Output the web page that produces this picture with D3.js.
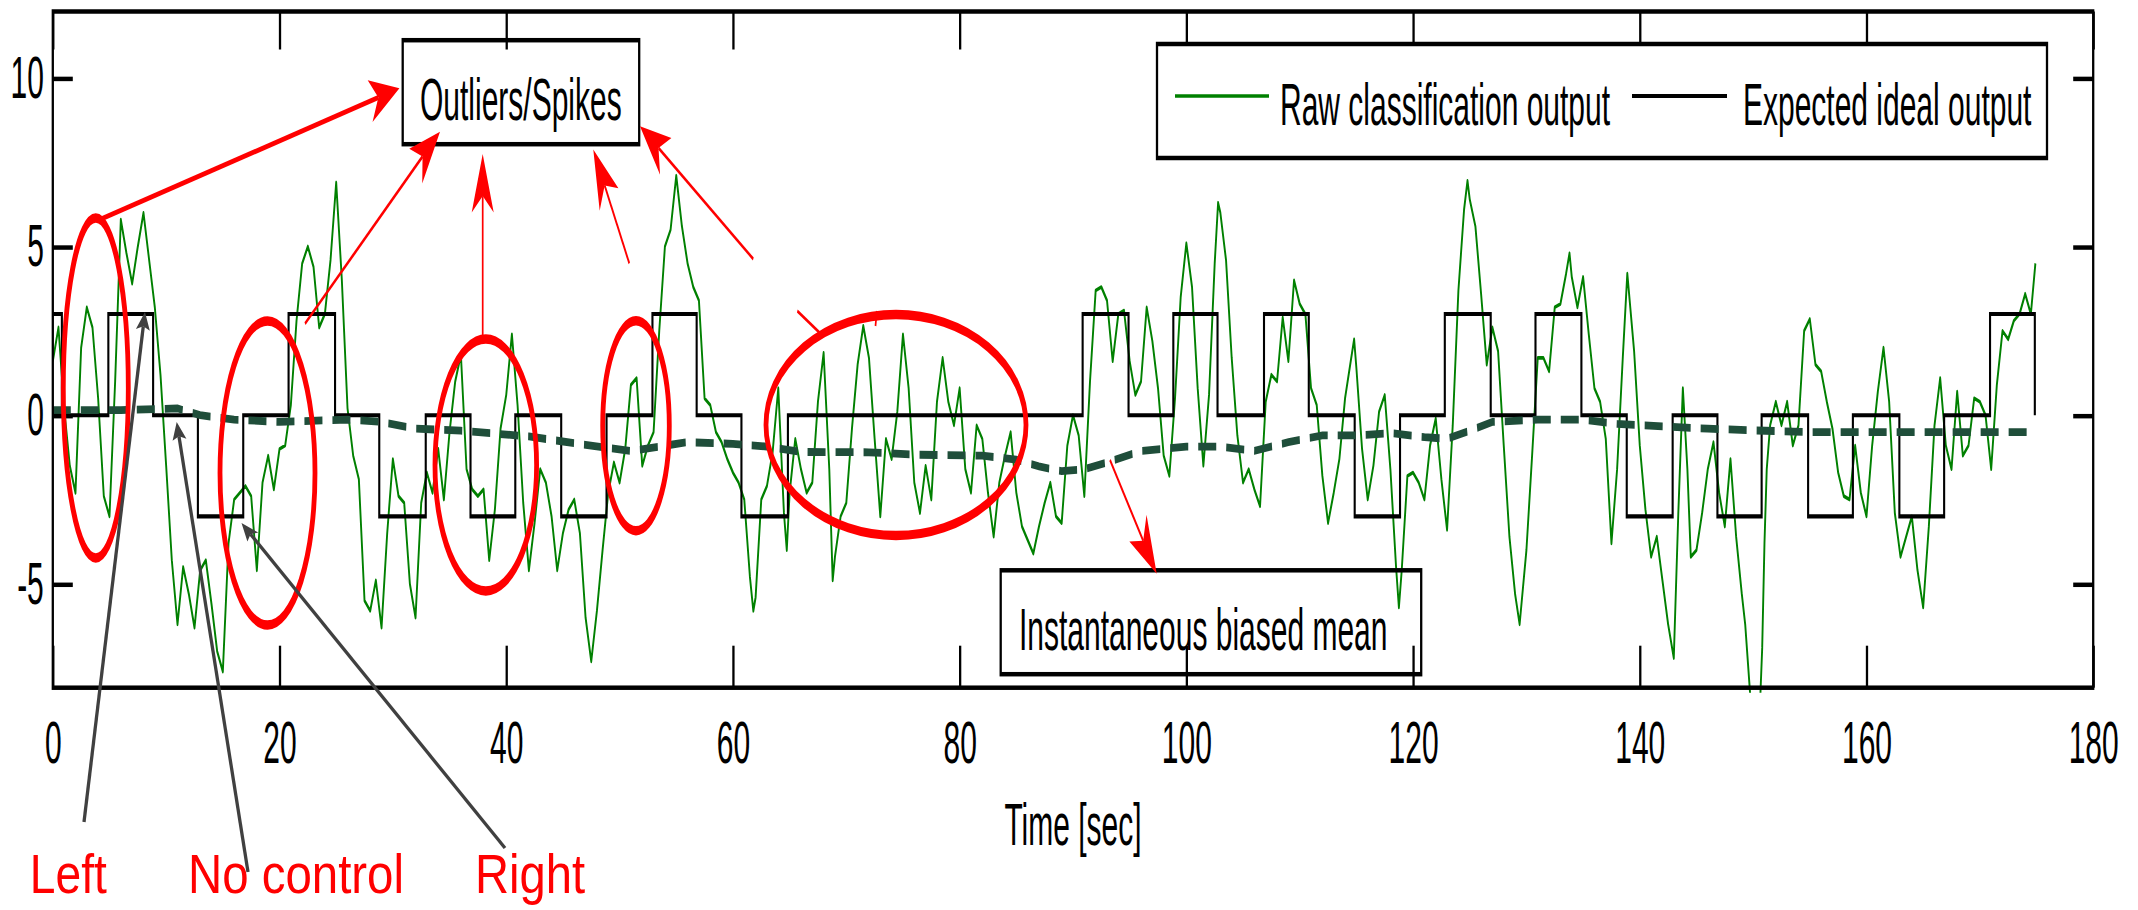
<!DOCTYPE html>
<html>
<head>
<meta charset="utf-8">
<script src="https://cdn.jsdelivr.net/npm/d3@7"></script>
<style>
  html, body { margin: 0; padding: 0; background: #ffffff; }
  svg { display: block; }
</style>
</head>
<body>
<svg id="chart" width="2138" height="910"></svg>
<script>
// ---------------- DATA ----------------
const xTicks = [0, 20, 40, 60, 80, 100, 120, 140, 160, 180];
const yTicks = [-5, 0, 5, 10];
const xLabel = "Time [sec]";
const legendLabels = ["Raw classification output", "Expected ideal output"];
const boxLabels = ["Outliers/Spikes", "Instantaneous biased mean"];
const classLabels = ["Left", "No control", "Right"];

// Expected ideal output (step function, value holds until next time)
const stepTime = [0, 0.8, 4.9, 8.85, 12.8, 16.8, 20.8, 24.9, 28.8, 32.9, 36.85, 40.8, 44.85, 48.85,
  52.9, 56.8, 60.75, 64.85, 90.85, 94.9, 98.85, 102.75, 106.85, 110.8, 114.85, 118.85, 122.8,
  126.85, 130.8, 134.85, 138.85, 142.9, 146.85, 150.75, 154.85, 158.8, 162.9, 166.85, 170.9, 174.85];
const stepValue = [3, 0, 3, 0, -3, 0, 3, 0, -3, 0, -3, 0, -3, 0,
  3, 0, -3, 0, 3, 0, 3, 0, 3, 0, -3, 0, 3,
  0, 3, 0, -3, 0, -3, 0, -3, 0, -3, 0, 3, 0];

// Instantaneous biased mean (dashed)
const meanTime = [0, 6, 11, 13, 16, 20, 26, 29, 32, 36, 42, 47, 51, 56, 60, 63, 66, 72, 76, 82, 85, 87,
  89, 91, 93, 96, 100, 103, 106, 109, 112, 115, 118, 121, 123, 125, 127, 131, 135, 138, 142, 146, 150, 155, 174.9];
const meanValue = [0.15, 0.15, 0.2, 0.0, -0.13, -0.2, -0.13, -0.2, -0.4, -0.46, -0.63, -0.88, -1.06, -0.8, -0.85,
  -0.93, -1.09, -1.1, -1.17, -1.2, -1.32, -1.52, -1.66, -1.6, -1.4, -1.06, -0.93, -0.93, -1.06, -0.8, -0.6,
  -0.6, -0.53, -0.65, -0.7, -0.46, -0.2, -0.13, -0.13, -0.26, -0.33, -0.4, -0.45, -0.5, -0.5];

// Raw classification output
const rawTime = [
  0, 0.5, 1, 1.5, 2, 2.5, 3, 3.5, 4, 4.5, 5, 5.5, 6, 6.5, 7, 7.5, 8, 8.5, 9, 9.5,
  10, 10.5, 11, 11.5, 12, 12.5, 13, 13.5, 14, 14.5, 15, 15.5, 16, 16.5, 17, 17.5, 18, 18.5, 19, 19.5,
  20, 20.5, 21, 21.5, 22, 22.5, 23, 23.5, 24, 24.5, 25, 25.5, 26, 26.5, 27, 27.5, 28, 28.5, 29, 29.5,
  30, 30.5, 31, 31.5, 32, 32.5, 33, 33.5, 34, 34.5, 35, 35.5, 36, 36.5, 37, 37.5, 38, 38.5, 39, 39.5,
  40, 40.5, 41, 41.5, 42, 42.5, 43, 43.5, 44, 44.5, 45, 45.5, 46, 46.5, 47, 47.5, 48, 48.5, 49, 49.5,
  50, 50.5, 51, 51.5, 52, 52.5, 53, 53.5, 54, 54.5, 55, 55.5, 56, 56.5, 57, 57.5, 58, 58.5, 59, 59.5,
  60, 60.5, 61, 61.5, 61.8, 62, 62.5, 63, 63.5, 64, 64.5, 64.75,
  65, 65.5, 66, 66.5, 67, 67.5, 68, 68.5, 68.8, 69, 69.5,
  70, 70.5, 71, 71.5, 72, 72.5, 73, 73.5, 74, 74.5,
  75, 75.5, 76, 76.5, 77, 77.5, 78, 78.5, 79, 79.5,
  80, 80.5, 81, 81.5, 82, 82.5, 83, 83.5, 84, 84.5,
  85, 85.5, 86, 86.5, 87, 87.5, 88, 88.5, 89, 89.5,
  90, 90.5, 91, 91.5, 92, 92.5, 93, 93.5, 94, 94.5,
  95, 95.5, 96, 96.5, 97, 97.5, 98, 98.5, 99, 99.5,
  100, 100.5, 101, 101.5, 102, 102.5, 102.8, 103, 103.5, 104, 104.5,
  105, 105.5, 106, 106.5, 107, 107.5, 108, 108.5, 109, 109.5,
  110, 110.5, 111, 111.5, 112, 112.5, 113, 113.5, 114, 114.5, 114.8,
  115, 115.5, 116, 116.5, 117, 117.5, 118, 118.5, 118.75, 119, 119.5,
  120, 120.5, 121, 121.5, 122, 122.5, 123, 123.5, 124, 124.5, 124.8,
  125, 125.5, 126, 126.5, 127, 127.5, 128, 128.5, 129, 129.4,
  130, 130.5, 131, 131.5, 132, 132.5, 133, 133.5, 133.8, 134, 134.5,
  135, 135.5, 136, 136.5, 137, 137.5, 138, 138.5, 138.9, 139.5,
  140, 140.5, 141, 141.5, 142, 142.5, 143, 143.4, 143.8, 144.2, 144.5,
  145, 145.5, 146, 146.5, 147, 147.5, 148, 148.5, 149, 149.3, 149.7,
  150, 150.5, 150.8, 151, 151.2, 151.5, 152, 152.5, 153, 153.5, 154, 154.5,
  155, 155.5, 156, 156.5, 157, 157.5, 158, 158.5, 159, 159.5,
  160, 160.5, 161, 161.5, 162, 162.5, 163, 163.5, 164, 164.5,
  165, 165.5, 166, 166.5, 167, 167.5, 168, 168.5, 169, 169.5,
  170, 170.5, 171, 171.5, 172, 172.5, 173, 173.5, 174, 174.5, 174.9
];
const rawValue = [
  1.6, 2.6, 0.2, -1.5, -2.3, 2.0, 3.2, 2.6, 0.5, -2.4, -3.0, 1.0, 5.8, 4.8, 3.9, 5.0, 6.0, 4.6, 3.2, 1.2,
  -1.5, -4.3, -6.2, -4.5, -5.3, -6.3, -4.6, -4.3, -5.6, -7.0, -7.6, -3.8, -2.5, -2.3, -2.1, -2.4, -4.6, -2.0, -1.2, -2.2,
  -1.0, -0.9, 0.3, 2.8, 4.5, 5.0, 4.4, 2.6, 3.0, 4.6, 6.9, 4.0, 0.2, -1.2, -1.9, -5.5, -5.8, -4.9, -6.3, -3.5,
  -1.3, -2.4, -2.6, -5.0, -6.0, -2.6, -1.7, -2.3, -1.0, -2.5, -0.5, 1.0, 1.8, -1.6, -2.2, -2.4, -2.2, -4.3, -2.8, -0.4,
  0.6, 2.4, 0.3, -2.6, -4.6, -3.2, -1.6, -2.0, -3.0, -4.6, -3.5, -2.8, -2.5, -3.5, -6.0, -7.3, -5.8, -4.0, -2.3, -1.4,
  -2.0, -1.0, 0.9, 1.1, -1.5, -0.9, -0.5, 2.5, 5.0, 5.5, 7.1, 5.6, 4.5, 3.8, 3.4, 0.5, 0.3, -0.5, -0.8, -1.3,
  -1.7, -2.0, -2.5, -4.8, -5.8, -5.4, -2.5, -2.1, -1.1, 0.8, -2.9, -4.0,
  -2.3, -0.7, -1.6, -2.3, -2.0, 0.4, 1.85, -1.6, -4.9, -4.2, -3.0,
  -2.6, -0.4, 1.5, 2.65, 1.7, -0.7, -3.0, -0.7, -1.3, 0.1,
  2.4, 0.8, -2.0, -2.9, -1.5, -2.5, 0.4, 1.7, 0.4, -0.3,
  0.8, -1.6, -2.3, -0.3, -0.7, -2.3, -3.6, -2.0, -1.2, -0.5,
  -2.3, -3.3, -3.7, -4.1, -3.3, -2.6, -2.0, -3.0, -3.2, -0.9,
  0.0, -0.6, -2.4, 1.0, 3.7, 3.8, 3.4, 1.6, 3.0, 3.1,
  1.6, 0.6, 1.0, 3.2, 2.2, 0.8, -1.2, -1.8, 0.5, 3.5,
  5.1, 3.8, 0.8, -1.5, 0.6, 4.5, 6.3, 6.0, 4.6, 1.7, -0.6,
  -2.0, -1.6, -2.2, -2.7, 0.4, 1.2, 1.0, 2.9, 1.6, 4.0,
  3.3, 3.0, 0.8, 0.3, -1.8, -3.2, -2.3, -1.3, 0.5, 1.6, 2.25,
  1.4, -1.0, -2.5, -1.5, 0.1, 0.6, -1.6, -4.5, -5.7, -4.6, -1.8,
  -1.7, -2.0, -2.5, -0.9, -0.1, -1.9, -3.4, -0.3, 3.7, 6.1, 6.95,
  6.4, 5.6, 3.6, 1.5, 2.6, 1.9, -0.9, -3.6, -5.3, -6.2,
  -4.0, -1.2, 1.7, 1.7, 1.3, 3.2, 3.3, 4.2, 4.8, 4.1, 3.2,
  4.1, 2.4, 0.8, 0.4, -0.7, -3.8, -1.6, 1.7, 4.2, 1.9,
  -0.9, -2.8, -4.2, -3.6, -4.9, -6.2, -7.2, -2.9, 0.8, -1.6, -4.2,
  -4.0, -2.9, -1.6, -0.8, -2.3, -3.3, -1.3, -3.6, -5.3, -6.2, -8.1,
  -9.5, -9.5, -6.9, -3.8, -1.6, -0.3, 0.4, -0.3, 0.4, -0.9, -0.3, 2.5,
  2.85, 1.5, 1.3, 0.4, -0.4, -1.7, -2.4, -2.5, -0.9, -2.3,
  -3.0, -0.9, 0.7, 2.0, 0.4, -2.9, -4.2, -3.6, -3.0, -4.6,
  -5.7, -3.3, -0.3, 1.1, -0.9, -1.6, 0.7, -1.2, -0.9, 0.5,
  0.4, 0.0, -1.6, 0.9, 2.5, 2.25, 2.8, 3.0, 3.6, 3.0, 4.5
];

// ---------------- DRAWING ----------------
const K = 1.95;                 // vertical stretch of the original figure
const Y = p => p / K;           // full-pixel y -> stretched-group units
const FONT = "'Liberation Sans', Arial, Helvetica, sans-serif";
const FS = 30;

const svg = d3.select("#chart");
svg.append("rect").attr("width", 2138).attr("height", 910).attr("fill", "#fff");
const g = svg.append("g").attr("transform", `scale(1,${K})`);

const P = { l: 52.8, r: 2093.2, t: 11.5, b: 687.7 };
const x = d3.scaleLinear().domain([0, 180]).range([P.l, P.r]);
const y = d3.scaleLinear().domain([-8.08, 11.97]).range([Y(P.b), Y(P.t)]);

g.append("defs").append("clipPath").attr("id", "clip").append("rect")
  .attr("x", P.l).attr("y", Y(P.t)).attr("width", P.r - P.l).attr("height", Y(P.b + 5) - Y(P.t));

// series
const lineLin = d3.line().x(d => x(d[0])).y(d => y(d[1]));
const lineStep = d3.line().x(d => x(d[0])).y(d => y(d[1])).curve(d3.curveStepAfter);

g.append("path").datum(rawTime.map((t, i) => [t, rawValue[i]]))
  .attr("d", lineLin).attr("fill", "none").attr("stroke", "#008000")
  .attr("stroke-width", 1.9).attr("stroke-linejoin", "round").attr("clip-path", "url(#clip)");

g.append("path").datum(stepTime.map((t, i) => [t, stepValue[i]]))
  .attr("d", lineStep).attr("fill", "none").attr("stroke", "#000").attr("stroke-width", 2.1);

g.append("path").datum(meanTime.map((t, i) => [t, meanValue[i]]))
  .attr("d", lineLin).attr("fill", "none").attr("stroke", "#1f4e3a")
  .attr("stroke-width", 4).attr("stroke-dasharray", "18,10");

// axes
const xb = g.append("g").attr("transform", `translate(0,${Y(P.b)})`)
  .call(d3.axisBottom(x).tickValues(xTicks).tickSizeInner(-42 / K).tickSizeOuter(0)
    .tickPadding(17.3).tickFormat(d => String(d)));
const xt = g.append("g").attr("transform", `translate(0,${Y(P.t)})`)
  .call(d3.axisTop(x).tickValues(xTicks).tickSizeInner(-38 / K).tickSizeOuter(0).tickFormat(""));
const yl = g.append("g").attr("transform", `translate(${P.l},0)`)
  .call(d3.axisLeft(y).tickValues(yTicks).tickSizeInner(-20).tickSizeOuter(0)
    .tickPadding(9).tickFormat(d => String(d)));
const yr = g.append("g").attr("transform", `translate(${P.r},0)`)
  .call(d3.axisRight(y).tickValues(yTicks).tickSizeInner(-20).tickSizeOuter(0).tickFormat(""));
[xb, xt, yl, yr].forEach(a => {
  a.select(".domain").remove();
  a.selectAll("line").attr("stroke", "#000").attr("stroke-width", 2.3);
  a.selectAll("text").attr("font-size", FS).attr("font-family", FONT).attr("fill", "#000");
});
g.append("rect").attr("x", P.l).attr("y", Y(P.t)).attr("width", P.r - P.l)
  .attr("height", Y(P.b) - Y(P.t)).attr("fill", "none").attr("stroke", "#000").attr("stroke-width", 2.3);

g.append("text").attr("x", (P.l + P.r) / 2).attr("y", Y(845)).attr("text-anchor", "middle")
  .attr("font-size", FS).attr("font-family", FONT).attr("fill", "#000").text(xLabel);

// legend
g.append("rect").attr("x", 1157).attr("y", Y(44)).attr("width", 890).attr("height", Y(158) - Y(44))
  .attr("fill", "#fff").attr("stroke", "#000").attr("stroke-width", 2.3);
g.append("line").attr("x1", 1175).attr("x2", 1269).attr("y1", Y(96)).attr("y2", Y(96))
  .attr("stroke", "#008000").attr("stroke-width", 1.8);
g.append("text").attr("x", 1280).attr("y", Y(125)).attr("font-size", FS).attr("font-family", FONT)
  .attr("fill", "#000").text(legendLabels[0]);
g.append("line").attr("x1", 1632).attr("x2", 1727).attr("y1", Y(96)).attr("y2", Y(96))
  .attr("stroke", "#000").attr("stroke-width", 2.1);
g.append("text").attr("x", 1743).attr("y", Y(125)).attr("font-size", FS).attr("font-family", FONT)
  .attr("fill", "#000").text(legendLabels[1]);

// annotation boxes
g.append("rect").attr("x", 402.7).attr("y", Y(40.2)).attr("width", 236.5).attr("height", Y(144.2) - Y(40.2))
  .attr("fill", "none").attr("stroke", "#000").attr("stroke-width", 2.3);
g.append("text").attr("x", 420).attr("y", Y(120.5)).attr("font-size", FS).attr("font-family", FONT)
  .attr("fill", "#000").text(boxLabels[0]);
g.append("rect").attr("x", 1000.7).attr("y", Y(570.3)).attr("width", 420.5).attr("height", Y(674.2) - Y(570.3))
  .attr("fill", "none").attr("stroke", "#000").attr("stroke-width", 2.3);
g.append("text").attr("x", 1019).attr("y", Y(650)).attr("font-size", FS).attr("font-family", FONT)
  .attr("fill", "#000").text(boxLabels[1]);

// red ellipses
function ell(cx, cy, rx, ry) {
  g.append("ellipse").attr("cx", cx).attr("cy", Y(cy)).attr("rx", rx).attr("ry", ry / K)
    .attr("fill", "none").attr("stroke", "#ff0000").attr("stroke-width", 4.8);
}
ell(95.8, 388, 32.5, 170);
ell(267.5, 473, 47.5, 152);
ell(485.8, 465, 50.8, 126);
ell(636, 425.8, 33.3, 105);
ell(896, 425, 130, 110.5);

// arrows
function arrow(parent, x1, y1, x2, y2, o) {
  const dx = x2 - x1, dy = y2 - y1, len = Math.hypot(dx, dy), ux = dx / len, uy = dy / len, px = -uy, py = ux;
  const L = o.L, W = o.W, n = o.notch || 0.72;
  const nx = x2 - ux * L * n, ny = y2 - uy * L * n;
  parent.append("line").attr("x1", x1).attr("y1", y1).attr("x2", nx).attr("y2", ny)
    .attr("stroke", o.color).attr("stroke-width", o.width);
  parent.append("path").attr("d",
    `M${x2},${y2}L${x2 - ux * L + px * W},${y2 - uy * L + py * W}L${nx},${ny}L${x2 - ux * L - px * W},${y2 - uy * L - py * W}Z`)
    .attr("fill", o.color);
}
function redArrow(x1, y1, x2, y2, w) {
  arrow(g, x1, Y(y1), x2, Y(y2), { color: "#ff0000", width: w, L: 30, W: 11 });
}
redArrow(101.7, 218.8, 399.4, 88.3, 2.6);
redArrow(305, 323.7, 440, 131.7, 1.8);
redArrow(482.7, 339, 482.7, 154, 1.7);
redArrow(629.3, 263.4, 593.3, 149.6, 1.7);
redArrow(753.3, 259, 640, 126.3, 1.7);
redArrow(1110, 460, 1156.7, 573.7, 1.7);
g.append("line").attr("x1", 821.7).attr("y1", Y(334.8)).attr("x2", 797.3).attr("y2", Y(311))
  .attr("stroke", "#ff0000").attr("stroke-width", 1.7);
g.append("line").attr("x1", 876.8).attr("y1", Y(311)).attr("x2", 875.5).attr("y2", Y(326))
  .attr("stroke", "#ff0000").attr("stroke-width", 1.7);

// gray pointers and class labels (not stretched)
const gray = { color: "#404040", width: 3.3, L: 18, W: 7, notch: 0.8 };
arrow(svg, 84, 822, 145, 312, gray);
arrow(svg, 248, 872, 176.7, 422, gray);
arrow(svg, 505, 848, 241.5, 523, gray);

const labelPos = [[29.8, 77], [188, 216], [475, 110]];
classLabels.forEach((s, i) => {
  svg.append("text").attr("x", labelPos[i][0]).attr("y", 893).attr("font-size", 56)
    .attr("font-family", FONT).attr("fill", "#ff0000")
    .attr("textLength", labelPos[i][1]).attr("lengthAdjust", "spacingAndGlyphs").text(s);
});
</script>
</body>
</html>
